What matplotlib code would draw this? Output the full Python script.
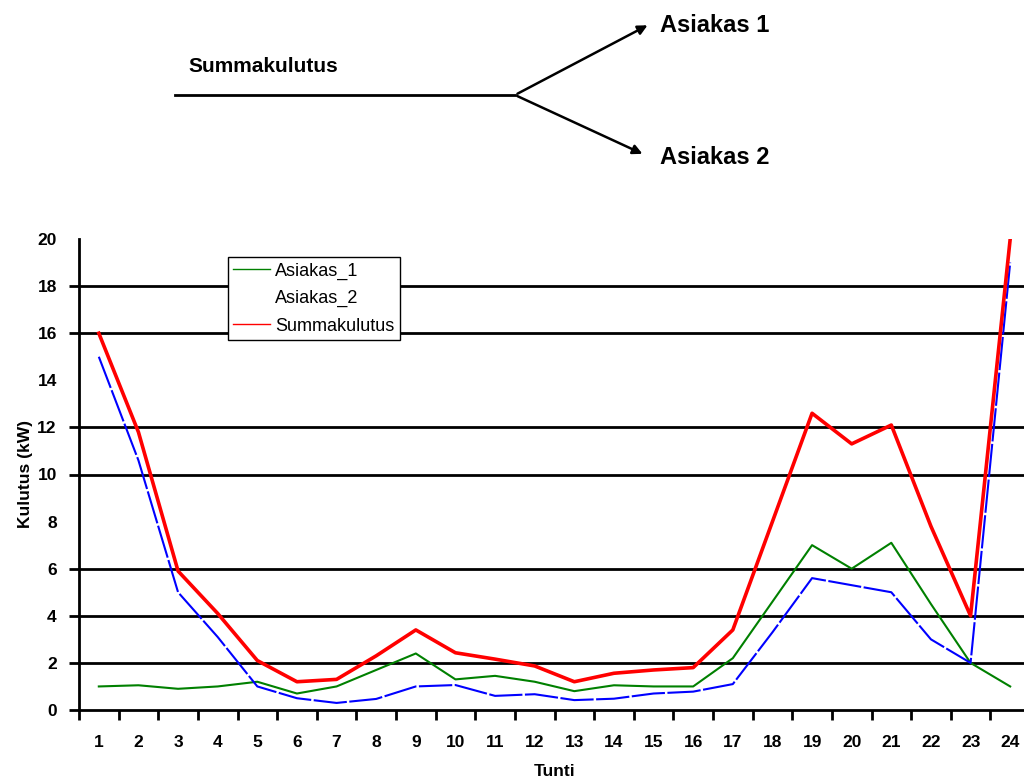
import numpy as np
import matplotlib
matplotlib.use("Agg")
import matplotlib.pyplot as plt

plt.rcParams['font.family'] = ['Liberation Sans', 'DejaVu Sans']

tunti = list(range(1, 25))
asiakas_1 = [1.0, 1.05, 0.9, 1.0, 1.2, 0.7, 1.0, 1.7, 2.4, 1.3, 1.45, 1.2, 0.8, 1.05, 1.0, 1.0,
             2.2, 4.6, 7.0, 6.0, 7.1, 4.5, 2.0, 1.0]
asiakas_2 = [15.0, 10.6, 5.0, 3.1, 1.0, 0.5, 0.3, 0.47, 1.0, 1.06, 0.6, 0.67, 0.42, 0.48, 0.7, 0.78,
             1.1, 3.3, 5.6, 5.3, 5.0, 3.0, 2.0, 19.0]
summa = [16.0, 11.8, 5.9, 4.1, 2.1, 1.2, 1.3, 2.3, 3.4, 2.43, 2.16, 1.87, 1.2, 1.56, 1.7, 1.8,
         3.4, 8.0, 12.6, 11.3, 12.1, 7.8, 4.0, 20.0]
y_ticks = list(range(0, 21, 2))
no_grid = [8, 14, 20]

W, H = 1024, 781
fig = plt.figure(figsize=(W / 100, H / 100), dpi=100)

# main chart, placed in pixels
x0, x1 = 79, 1030
y0, y1 = 710, 239
ax = fig.add_axes([x0 / W, 1 - y0 / H, (x1 - x0) / W, (y0 - y1) / H])

ax.plot(tunti, asiakas_1, color='green', lw=1.5, label='Asiakas_1', zorder=3)
ax.plot(tunti, asiakas_2, color='blue', lw=1.5, dashes=(16, 1.2), label='Asiakas_2', zorder=3)
ax.plot(tunti, summa, color='red', lw=2.6, label='Summakulutus', zorder=4)

ax.set_xlim(0.5, 24.5)
ax.set_ylim(0, 20)
ax.set_xticks(tunti)
ax.set_xticklabels([str(t) for t in tunti], fontsize=12.5, fontweight='bold')
ax.set_xticks(np.arange(0.5, 25, 1), minor=True)
ax.tick_params(axis='x', which='major', length=0, pad=18)
ax.tick_params(axis='x', which='minor', length=7, width=2, direction='out')
ax.set_yticks(y_ticks)
ax.set_yticklabels([str(v) for v in y_ticks], fontsize=12.5, fontweight='bold')
ax.tick_params(axis='y', length=7, width=2, pad=9)

ax.yaxis.grid(True, color='black', lw=2)
for t, v in zip(ax.yaxis.get_major_ticks(), y_ticks):
    if v in no_grid:
        t.gridline.set_visible(False)
        t.tick1line.set_visible(False)
    if v == 0:
        t.gridline.set_visible(False)

for s in ['top', 'right']:
    ax.spines[s].set_visible(False)
for s in ['left', 'bottom']:
    ax.spines[s].set_linewidth(2)

ax.set_xlabel('Tunti', fontsize=12.5, fontweight='bold', labelpad=10)
ax.set_ylabel('Kulutus (kW)', fontsize=12.5, fontweight='bold', labelpad=3)

h, l = ax.get_legend_handles_labels()
h[1] = plt.Line2D([], [], color='none')
leg = ax.legend(h, l, loc='upper left',
                bbox_to_anchor=((228 - x0) / (x1 - x0), (y0 - 257) / (y0 - y1)),
                borderaxespad=0, fancybox=False, framealpha=1, edgecolor='black',
                prop={'size': 13}, handlelength=2.0, handletextpad=0.3,
                borderpad=0.3, labelspacing=0.58)
leg.get_frame().set_linewidth(1)
for ln in leg.get_lines():
    ln.set_linewidth(1)

# top diagram
top = fig.add_axes([0, 0, 1, 1])
top.set_xlim(0, W)
top.set_ylim(H, 0)
top.axis('off')
top.plot([175, 515], [95, 95], color='black', lw=2)
top.annotate('', xy=(650, 24), xytext=(515, 95),
             arrowprops=dict(arrowstyle='-|>', color='black', lw=1.8, mutation_scale=14))
top.annotate('', xy=(645, 155), xytext=(515, 95),
             arrowprops=dict(arrowstyle='-|>', color='black', lw=1.8, mutation_scale=14))
top.text(188, 67, 'Summakulutus', fontsize=15, fontweight='bold', va='center', ha='left')
top.text(660, 25, 'Asiakas 1', fontsize=17, fontweight='bold', va='center', ha='left')
top.text(660, 158, 'Asiakas 2', fontsize=17, fontweight='bold', va='center', ha='left')

fig.savefig('out.png', dpi=100)
